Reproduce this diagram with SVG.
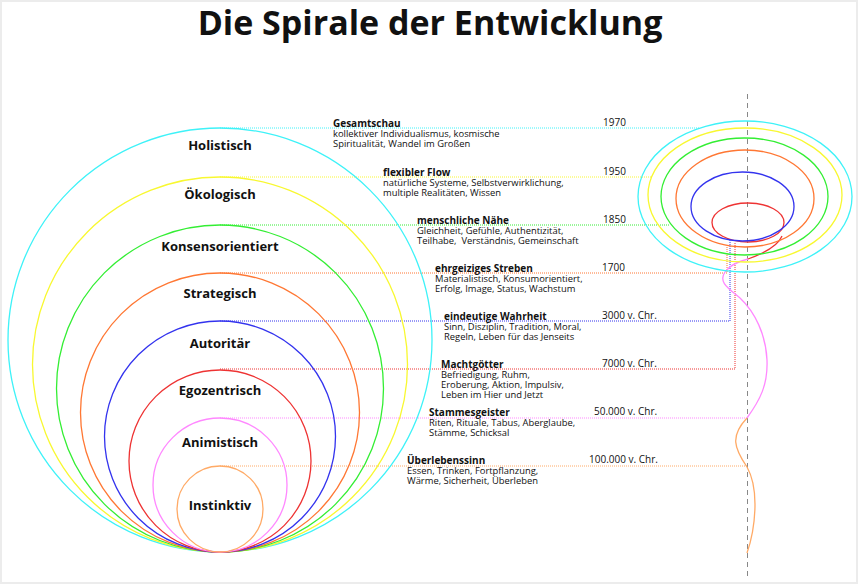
<svg xmlns="http://www.w3.org/2000/svg" width="860" height="585" viewBox="0 0 860 585">
<style>
text{font-family:"Open Sans","Liberation Sans",sans-serif;fill:#111}
.title{font-size:34px;font-weight:bold}
.lbl{font-size:13px;font-weight:bold;text-anchor:middle}
.d{font-size:9.4px}
.h{font-size:10px;font-weight:bold}
.y{font-size:10px}
.ring{fill:none;stroke-width:1.3}
.con{fill:none;stroke-width:1;stroke-dasharray:1 1}
.cy{stroke:#3ef2f8}.ye{stroke:#f8f830}.gr{stroke:#33ee33}.or{stroke:#ff7733}.bl{stroke:#3333ee}.re{stroke:#ee3333}.pk{stroke:#ff88ff}.pe{stroke:#ffaa66}
</style>
<rect x="1" y="1" width="856" height="582" fill="#fff" stroke="#ececec" stroke-width="2"/>
<text class="title" x="430" y="35" text-anchor="middle">Die Spirale der Entwicklung</text>

<g id="connectors">
<path class="con cy" d="M220,128 H700"/>
<path class="con ye" d="M220,177 H652"/>
<path class="con gr" d="M220,225 H670"/>
<path class="con or" d="M220,273 H727 V247"/>
<path class="con bl" d="M220,321 H730 V240"/>
<path class="con re" d="M220,369 H735 V242"/>
<path class="con pk" d="M220,418 H747"/>
<path class="con pe" d="M220,466 H747"/>
</g>

<line x1="747.5" y1="94" x2="747.5" y2="578" stroke="#888" stroke-width="1" stroke-dasharray="5 4"/>

<g id="spiral">
<path class="ring pe" d="M747,553 C755,530 760,490 747,467 C734,448 730,436 747,418"/>
<path class="ring pk" d="M747,418 C760,400 768,385 767,360 C766,335 755,312 740,298 C728,288 718,282 725,272 C730,265 740,261 748,259"/>
<path class="ring re" d="M748,259 C762,254 778,246 782,236"/>
<ellipse class="ring re" cx="748" cy="222.5" rx="36" ry="19.5"/>
<ellipse class="ring bl" cx="742.5" cy="206.5" rx="51.5" ry="34.5"/>
<ellipse class="ring or" cx="745" cy="198.5" rx="69" ry="48.5"/>
<ellipse class="ring gr" cx="744.5" cy="196.5" rx="83.5" ry="58.5"/>
<ellipse class="ring ye" cx="745" cy="195" rx="97" ry="67"/>
<ellipse class="ring cy" cx="745" cy="196.5" rx="107" ry="75.5"/>
</g>

<g id="holistisch">
<circle class="ring cy" cx="220" cy="340" r="212"/>
<text class="lbl" x="220" y="150">Holistisch</text>
<text class="d" x="333" y="127"><tspan class="h">Gesamtschau</tspan><tspan x="333" dy="10">kollektiver Individualismus, kosmische</tspan><tspan x="333" dy="10">Spiritualität, Wandel im Großen</tspan></text>
<text class="y" x="603" y="126">1970</text>
</g>
<g id="oekologisch">
<circle class="ring ye" cx="220" cy="364.5" r="187.5"/>
<text class="lbl" x="220" y="199">Ökologisch</text>
<text class="d" x="383" y="176"><tspan class="h">flexibler Flow</tspan><tspan x="383" dy="10">natürliche Systeme, Selbstverwirklichung,</tspan><tspan x="383" dy="10">multiple Realitäten, Wissen</tspan></text>
<text class="y" x="603" y="175">1950</text>
</g>
<g id="konsensorientiert">
<circle class="ring gr" cx="220" cy="388.5" r="163.5"/>
<text class="lbl" x="220" y="251">Konsensorientiert</text>
<text class="d" x="417" y="224" style="white-space:pre"><tspan class="h">menschliche Nähe</tspan><tspan x="417" dy="10">Gleichheit, Gefühle, Authentizität,</tspan><tspan x="417" dy="10">Teilhabe,  Verständnis, Gemeinschaft</tspan></text>
<text class="y" x="603" y="223">1850</text>
</g>
<g id="strategisch">
<circle class="ring or" cx="220" cy="412.5" r="139.5"/>
<text class="lbl" x="220" y="298">Strategisch</text>
<text class="d" x="435" y="272"><tspan class="h">ehrgeiziges Streben</tspan><tspan x="435" dy="10">Materialistisch, Konsumorientiert,</tspan><tspan x="435" dy="10">Erfolg, Image, Status, Wachstum</tspan></text>
<text class="y" x="602" y="271">1700</text>
</g>
<g id="autoritaer">
<circle class="ring bl" cx="220" cy="436.5" r="115.5"/>
<text class="lbl" x="220" y="348">Autoritär</text>
<text class="d" x="444" y="320"><tspan class="h">eindeutige Wahrheit</tspan><tspan x="444" dy="10">Sinn, Disziplin, Tradition, Moral,</tspan><tspan x="444" dy="10">Regeln, Leben für das Jenseits</tspan></text>
<text class="y" x="602" y="319">3000 v. Chr.</text>
</g>
<g id="egozentrisch">
<circle class="ring re" cx="220" cy="461" r="91"/>
<text class="lbl" x="220" y="395">Egozentrisch</text>
<text class="d" x="441" y="368"><tspan class="h">Machtgötter</tspan><tspan x="441" dy="10">Befriedigung, Ruhm,</tspan><tspan x="441" dy="10">Eroberung, Aktion, Impulsiv,</tspan><tspan x="441" dy="10">Leben im Hier und Jetzt</tspan></text>
<text class="y" x="602" y="367">7000 v. Chr.</text>
</g>
<g id="animistisch">
<circle class="ring pk" cx="220" cy="485" r="67"/>
<text class="lbl" x="220" y="447">Animistisch</text>
<text class="d" x="429" y="416"><tspan class="h">Stammesgeister</tspan><tspan x="429" dy="10">Riten, Rituale, Tabus, Aberglaube,</tspan><tspan x="429" dy="10">Stämme, Schicksal</tspan></text>
<text class="y" x="594" y="415">50.000 v. Chr.</text>
</g>
<g id="instinktiv">
<circle class="ring pe" cx="220" cy="509" r="43"/>
<text class="lbl" x="220" y="510">Instinktiv</text>
<text class="d" x="407" y="464"><tspan class="h">Überlebenssinn</tspan><tspan x="407" dy="10">Essen, Trinken, Fortpflanzung,</tspan><tspan x="407" dy="10">Wärme, Sicherheit, Überleben</tspan></text>
<text class="y" x="589" y="463">100.000 v. Chr.</text>
</g>
</svg>
